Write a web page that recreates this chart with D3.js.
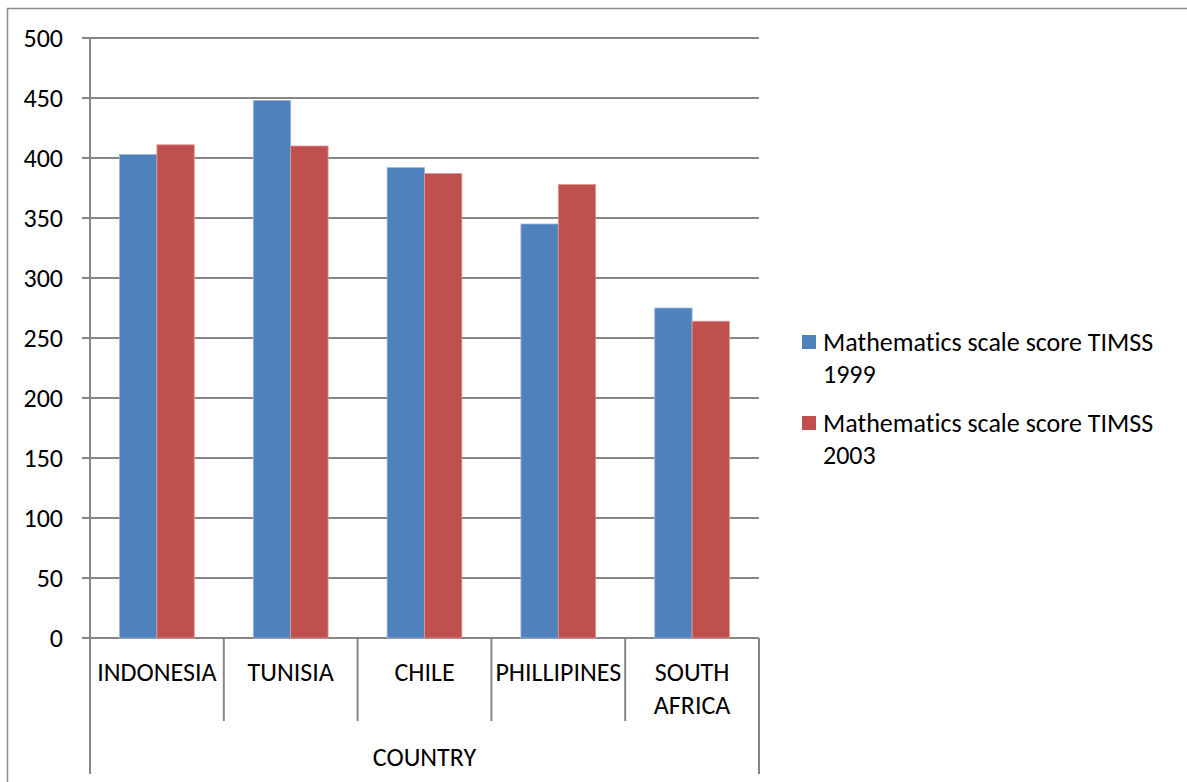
<!DOCTYPE html>
<html>
<head>
<meta charset="utf-8">
<script src="https://cdn.jsdelivr.net/npm/d3@7"></script>
<style>
  html, body { margin: 0; padding: 0; background: #fff; }
  svg { display: block; font-family: Carlito, Calibri, Lato, sans-serif; font-variant-ligatures: none; }
</style>
</head>
<body>
<svg id="chart" width="1187" height="782"></svg>
<script>
// TIMSS mathematics scale scores by country
const countries = ["INDONESIA", "TUNISIA", "CHILE", "PHILLIPINES", "SOUTH AFRICA"];
const score1999 = [403, 448, 392, 345, 275];
const score2003 = [411, 410, 387, 378, 264];
const seriesNames = ["Mathematics scale score TIMSS 1999", "Mathematics scale score TIMSS 2003"];
const seriesColors = ["#4F81BD", "#C0504D"];
const yTicks = [0, 50, 100, 150, 200, 250, 300, 350, 400, 450, 500];
const axisTitle = "COUNTRY";

(function draw() {
  const svg = d3.select("#chart");
  const plotLeft = 90, plotRight = 759, plotTop = 38, plotBottom = 638;
  const fontSize = 26;

  // Outer chart border
  svg.append("rect")
    .attr("x", 7.5).attr("y", 8.5)
    .attr("width", 1200).attr("height", 800)
    .attr("fill", "none").attr("stroke", "#8c8c8c").attr("stroke-width", 1.5);

  const x = d3.scaleBand().domain(countries).range([plotLeft, plotRight]).paddingInner(0).paddingOuter(0);
  const y = d3.scaleLinear().domain([0, 500]).range([plotBottom, plotTop]);

  // Gridlines with small outward ticks
  svg.append("g").selectAll("line").data(yTicks).join("line")
    .attr("x1", plotLeft - 8).attr("x2", plotRight)
    .attr("y1", d => y(d)).attr("y2", d => y(d))
    .attr("stroke", "#868686").attr("stroke-width", 2);

  // Y tick labels
  svg.append("g").selectAll("text").data(yTicks).join("text")
    .attr("x", 63).attr("y", d => y(d))
    .attr("dy", "0.35em")
    .attr("text-anchor", "end")
    .attr("font-size", fontSize)
    .attr("fill", "#000")
    .text(d => d);

  // Bars
  const inner = d3.scaleBand().domain([0, 1]).range([0, x.bandwidth()]).paddingOuter(0.79).paddingInner(0);
  const data = countries.flatMap((c, i) => [
    { c, s: 0, v: score1999[i] },
    { c, s: 1, v: score2003[i] }
  ]);
  svg.append("g").selectAll("rect").data(data).join("rect")
    .attr("x", d => x(d.c) + inner(d.s))
    .attr("width", inner.bandwidth())
    .attr("y", d => y(d.v))
    .attr("height", d => y(0) - y(d.v))
    .attr("fill", d => seriesColors[d.s])
    .attr("stroke", d => d.s === 0 ? "#9db6da" : "#dc9896")
    .attr("stroke-width", 0.8);

  // Vertical axis line
  svg.append("line")
    .attr("x1", plotLeft).attr("x2", plotLeft)
    .attr("y1", plotTop).attr("y2", plotBottom)
    .attr("stroke", "#868686").attr("stroke-width", 2);

  // Category dividers below the axis
  const bounds = countries.map(c => x(c)).concat([plotRight]);
  svg.append("g").selectAll("line").data(bounds).join("line")
    .attr("x1", d => d).attr("x2", d => d)
    .attr("y1", plotBottom)
    .attr("y2", (d, i) => (i === 0 || i === bounds.length - 1) ? 774 : 721)
    .attr("stroke", "#868686").attr("stroke-width", 2);

  // Category labels (two-word name wrapped onto two lines)
  const catG = svg.append("g");
  countries.forEach(c => {
    const words = c === "SOUTH AFRICA" ? c.split(" ") : [c];
    const cx = x(c) + x.bandwidth() / 2;
    const t = catG.append("text")
      .attr("x", cx)
      .attr("y", 681)
      .attr("text-anchor", "middle")
      .attr("font-size", fontSize)
      .attr("fill", "#000");
    words.forEach((w, k) => {
      t.append("tspan").attr("x", cx).attr("dy", k === 0 ? 0 : 33).text(w);
    });
  });

  // Axis title
  svg.append("text")
    .attr("x", (plotLeft + plotRight) / 2).attr("y", 766)
    .attr("text-anchor", "middle")
    .attr("font-size", fontSize)
    .attr("fill", "#000")
    .text(axisTitle);

  // Legend
  const legend = svg.append("g");
  const legendY = [335, 416];
  seriesNames.forEach((name, i) => {
    const g = legend.append("g").attr("transform", `translate(0,${legendY[i]})`);
    g.append("rect").attr("x", 802).attr("y", 0).attr("width", 14).attr("height", 14)
      .attr("fill", seriesColors[i]);
    const parts = name.match(/^(.*) (\d{4})$/);
    const t = g.append("text").attr("x", 823).attr("y", 16).attr("font-size", fontSize).attr("fill", "#000");
    t.append("tspan").attr("x", 823).attr("dy", 0).text(parts[1]);
    t.append("tspan").attr("x", 823).attr("dy", 32).text(parts[2]);
  });
})();
</script>
</body>
</html>
